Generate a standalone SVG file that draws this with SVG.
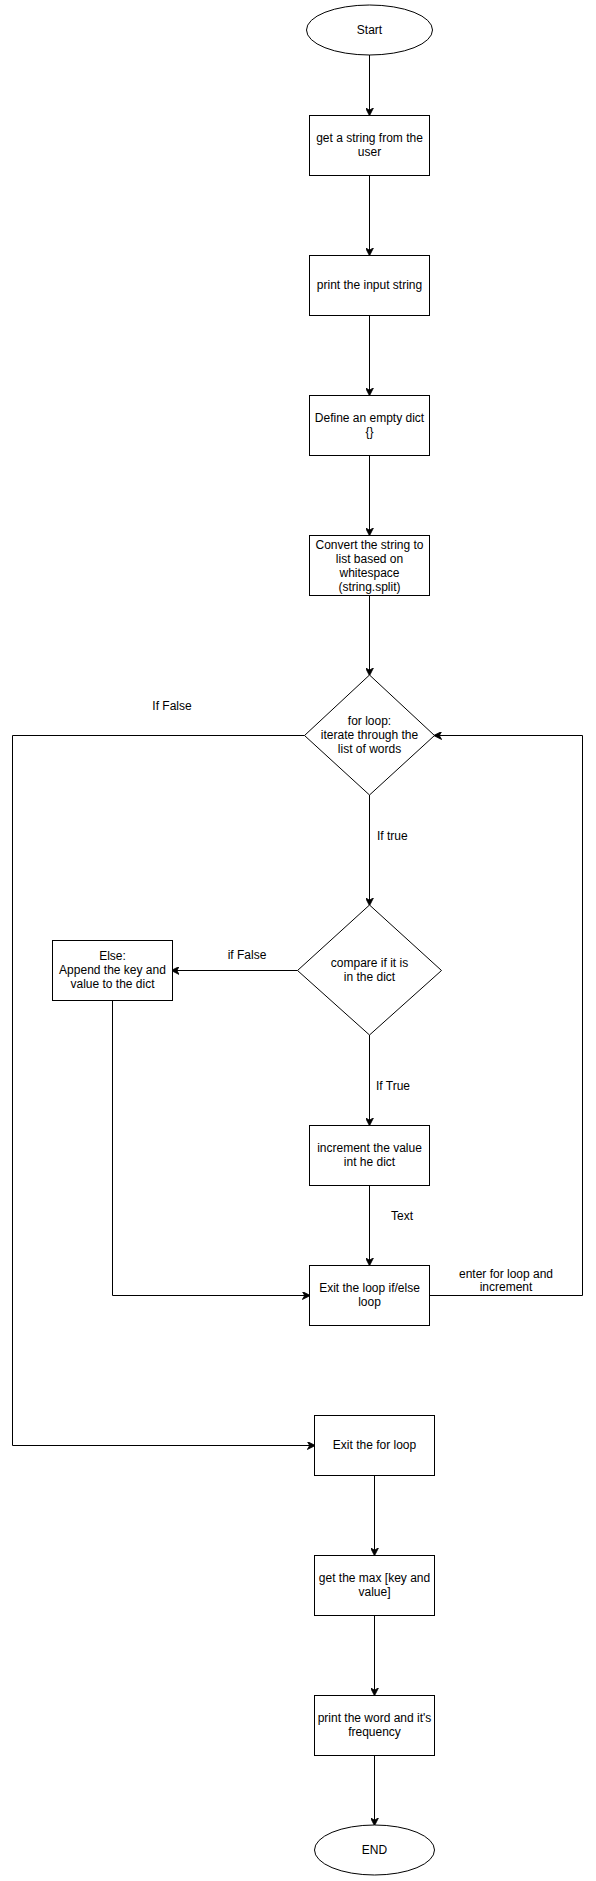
<svg xmlns="http://www.w3.org/2000/svg" width="596" height="1881" viewBox="0 0 596 1881">
<style>
.n{fill:#ffffff;stroke:#000000;stroke-width:1}
.c{fill:none;stroke:#000000;stroke-width:1}
text{font-family:"Liberation Sans",Arial,Helvetica,sans-serif;font-size:12px;fill:#000000}
.m{text-anchor:middle}
</style>
<defs>
<marker id="arr" viewBox="0 0 10 10" refX="9" refY="5" markerWidth="8" markerHeight="8" markerUnits="userSpaceOnUse" orient="auto">
<path d="M0,0 L10,5 L0,10 L3,5 Z" fill="#000000" stroke="#000000" stroke-width="1"/>
</marker>
</defs>
<rect width="596" height="1881" fill="#ffffff"/>
<g id="connectors">
<path class="c" d="M369.5,55 L369.5,115" marker-end="url(#arr)"/>
<path class="c" d="M369.5,175 L369.5,255" marker-end="url(#arr)"/>
<path class="c" d="M369.5,315 L369.5,395" marker-end="url(#arr)"/>
<path class="c" d="M369.5,455 L369.5,535" marker-end="url(#arr)"/>
<path class="c" d="M369.5,595 L369.5,675" marker-end="url(#arr)"/>
<path class="c" d="M369.5,795 L369.5,905" marker-end="url(#arr)"/>
<path class="c" d="M297.5,970.5 L172,970.5" marker-end="url(#arr)"/>
<path class="c" d="M369.5,1035 L369.5,1125" marker-end="url(#arr)"/>
<path class="c" d="M369.5,1185 L369.5,1265" marker-end="url(#arr)"/>
<path class="c" d="M112.5,1000 L112.5,1295.5 L309.5,1295.5" marker-end="url(#arr)"/>
<path class="c" d="M429.5,1295.5 L582.5,1295.5 L582.5,735.5 L434.5,735.5" marker-end="url(#arr)"/>
<path class="c" d="M304.5,735.5 L12.5,735.5 L12.5,1445.5 L314.5,1445.5" marker-end="url(#arr)"/>
<path class="c" d="M374.5,1475 L374.5,1555" marker-end="url(#arr)"/>
<path class="c" d="M374.5,1615 L374.5,1695" marker-end="url(#arr)"/>
<path class="c" d="M374.5,1755 L374.5,1825" marker-end="url(#arr)"/>
<text class="m" x="172" y="710">If False</text>
<text x="377" y="840">If true</text>
<text class="m" x="247" y="959">if False</text>
<text x="376" y="1090">If True</text>
<text class="m" x="402" y="1220">Text</text>
<text class="m" x="506" y="1278">enter for loop and</text>
<text class="m" x="506" y="1291">increment</text>
</g>
<g id="start">
<ellipse class="n" cx="369.5" cy="30" rx="63" ry="25"/>
<text class="m" x="369.5" y="34">Start</text>
</g>
<g id="get-string">
<rect class="n" x="309.5" y="115.5" width="120" height="60"/>
<text class="m" x="369.5" y="142">get a string from the</text>
<text class="m" x="369.5" y="156">user</text>
</g>
<g id="print-input">
<rect class="n" x="309.5" y="255.5" width="120" height="60"/>
<text class="m" x="369.5" y="289">print the input string</text>
</g>
<g id="define-dict">
<rect class="n" x="309.5" y="395.5" width="120" height="60"/>
<text class="m" x="369.5" y="422">Define an empty dict</text>
<text class="m" x="369.5" y="436">{}</text>
</g>
<g id="convert">
<rect class="n" x="309.5" y="535.5" width="120" height="60"/>
<text class="m" x="369.5" y="549">Convert the string to</text>
<text class="m" x="369.5" y="563">list based on</text>
<text class="m" x="369.5" y="577">whitespace</text>
<text class="m" x="369.5" y="591">(string.split)</text>
</g>
<g id="for-loop">
<path class="n" d="M369.5,675 L434.5,735.5 L369.5,795 L304.5,735.5 Z"/>
<text class="m" x="369.5" y="725">for loop:</text>
<text class="m" x="369.5" y="739">iterate through the</text>
<text class="m" x="369.5" y="753">list of words</text>
</g>
<g id="compare">
<path class="n" d="M369.5,905 L441.5,970.5 L369.5,1035 L297.5,970.5 Z"/>
<text class="m" x="369.5" y="967">compare if it is</text>
<text class="m" x="369.5" y="981">in the dict</text>
</g>
<g id="else">
<rect class="n" x="52.5" y="940.5" width="120" height="60"/>
<text class="m" x="112.5" y="960">Else:</text>
<text class="m" x="112.5" y="974">Append the key and</text>
<text class="m" x="112.5" y="988">value to the dict</text>
</g>
<g id="increment">
<rect class="n" x="309.5" y="1125.5" width="120" height="60"/>
<text class="m" x="369.5" y="1152">increment the value</text>
<text class="m" x="369.5" y="1166">int he dict</text>
</g>
<g id="exit-ifelse">
<rect class="n" x="309.5" y="1265.5" width="120" height="60"/>
<text class="m" x="369.5" y="1292">Exit the loop if/else</text>
<text class="m" x="369.5" y="1306">loop</text>
</g>
<g id="exit-for">
<rect class="n" x="314.5" y="1415.5" width="120" height="60"/>
<text class="m" x="374.5" y="1449">Exit the for loop</text>
</g>
<g id="get-max">
<rect class="n" x="314.5" y="1555.5" width="120" height="60"/>
<text class="m" x="374.5" y="1582">get the max [key and</text>
<text class="m" x="374.5" y="1596">value]</text>
</g>
<g id="print-word">
<rect class="n" x="314.5" y="1695.5" width="120" height="60"/>
<text class="m" x="374.5" y="1722">print the word and it's</text>
<text class="m" x="374.5" y="1736">frequency</text>
</g>
<g id="end">
<ellipse class="n" cx="374.5" cy="1850" rx="60" ry="25"/>
<text class="m" x="374.5" y="1854">END</text>
</g>
</svg>
